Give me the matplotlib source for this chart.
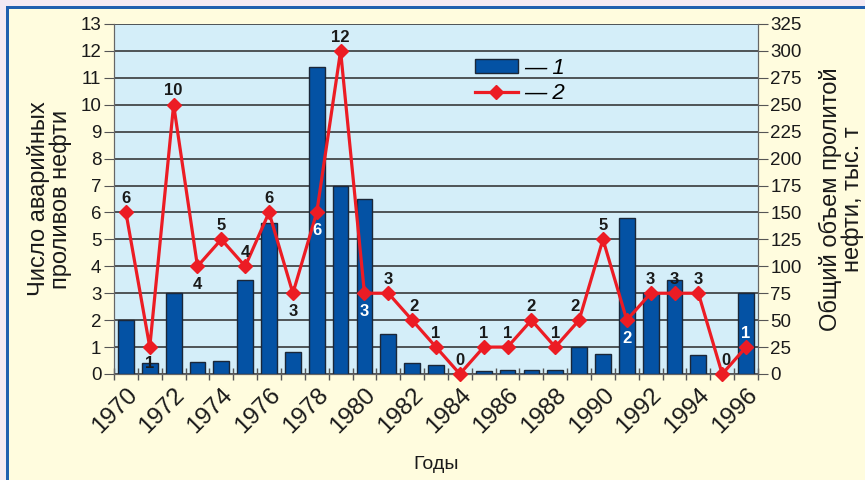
import matplotlib.pyplot as plt
from matplotlib.patches import Rectangle, Patch
from matplotlib.lines import Line2D
import numpy as np

plt.rcParams['font.family'] = ['Liberation Sans', 'DejaVu Sans']

years = list(range(1970, 1997))
# total spilled volume, thousand tonnes (bars, right axis)
volume = [50, 10.5, 75, 11.5, 12.5, 87.5, 140, 20, 285, 175, 162.5, 37,
          10.5, 8.7, 0, 2.5, 3.5, 3.5, 3.5, 25, 18.6, 145, 75, 87, 17.7, 0, 75]
# number of spills (line, left axis)
spills = [6, 1, 10, 4, 5, 4, 6, 3, 6, 12, 3, 3, 2, 1, 0, 1, 1, 2, 1, 2, 5,
          2, 3, 3, 3, 0, 1]

# label placement for point values: offset in points, text colour
lab_off = [(0, 10), (0, -12), (0, 10), (0, -13), (0, 10), (0, 10), (0, 10),
           (0, -13), (0, -13), (0, 10), (0, -13), (0, 10), (1, 10), (0, 10),
           (0, 10), (0, 10), (0, 10), (0, 10), (0, 10), (-3, 10), (0, 10), (0, -13),
           (0, 10), (0, 10), (0, 10), (3, 10), (0, 10)]
white_lab = {8, 10, 21, 26}

BLUE = '#0452A4'
RED = '#EC1C24'
YELLOW = '#FFFCDE'
SKY = '#D4EEF9'

fig = plt.figure(figsize=(8.65, 4.8), dpi=100, facecolor='#F3E9F3')
W, H = 865, 480
fig.patches.append(Rectangle((6 / W, 0), 1, (H - 6) / H, transform=fig.transFigure,
                             facecolor='#1F5FAF', edgecolor='none', zorder=-2))
fig.patches.append(Rectangle((9 / W, 0), 1, (H - 9) / H, transform=fig.transFigure,
                             facecolor=YELLOW, edgecolor='none', zorder=-1))

ax = fig.add_axes([114 / W, 1 - 374 / H, 644 / W, 350 / H])
ax2 = ax.twinx()

x = np.arange(len(years))

# bars + grid on the right axis, underneath
ax2.set_zorder(1)
ax.set_zorder(2)
ax.patch.set_visible(False)
ax2.patch.set_visible(True)
ax2.patch.set_facecolor(SKY)

ax2.bar(x, volume, width=0.66, color=BLUE, edgecolor='#1B2738', linewidth=1, zorder=3)
ax2.set_ylim(0, 325)
ax2.set_yticks(np.arange(0, 326, 25))
ax2.grid(axis='y', color='#2A2A2A', linewidth=1.1, zorder=1)
ax2.set_axisbelow(True)

ax.plot(x, spills, color=RED, linewidth=2.3, marker='D', markersize=7.5,
        markeredgecolor=RED, zorder=5, clip_on=False)
ax.set_ylim(0, 13)
ax.set_yticks(range(0, 14))
ax.set_xlim(-0.5, len(years) - 0.5)

for i, v in enumerate(spills):
    dx, dy = lab_off[i]
    ax.annotate(str(v), (x[i], v), xytext=(dx, dy), textcoords='offset points',
                ha='center', va='center', fontsize=12, fontweight='bold',
                color='white' if i in white_lab else '#1A1A1A', zorder=6)

# x ticks: marks on category borders, labels on even years
ax.set_xticks(x[::2])
ax.set_xticklabels([str(y) for y in years[::2]], rotation=45, ha='right',
                   va='top', rotation_mode='anchor', fontsize=17.5, color='#1A1A1A')
ax.tick_params(axis='x', which='major', length=0, pad=7)
ax.set_xticks(np.arange(-0.5, len(years), 1), minor=True)
ax.tick_params(axis='x', which='minor', length=8, direction='inout', color='#555555', width=1)

ax.tick_params(axis='y', length=7, direction='out', color='#555555', labelsize=13.5,
               labelcolor='#1A1A1A', pad=2)
ax2.tick_params(axis='y', length=7, direction='out', color='#555555', labelsize=13.5,
                labelcolor='#1A1A1A', pad=2)

for a in (ax, ax2):
    a.spines['top'].set_visible(False)
    a.spines['left'].set_color('#666666')
    a.spines['right'].set_color('#666666')
    a.spines['bottom'].set_color('#666666')

ax.set_ylabel('Число аварийных\nпроливов нефти', fontsize=17, color='#1A1A1A',
              linespacing=1.0, labelpad=6)
ax2.set_ylabel('Общий объем пролитой\nнефти, тыс. т', fontsize=17, color='#1A1A1A',
               linespacing=1.0, rotation=90, labelpad=12)
ax.set_xlabel('Годы', fontsize=14, color='#1A1A1A', labelpad=13)

handles = [Patch(facecolor=BLUE, edgecolor='#1B2738', linewidth=1),
           Line2D([], [], color=RED, linewidth=2.3, marker='D', markersize=7.5)]
leg = ax.legend(handles, ['— 1', '— 2'], loc='upper left', bbox_to_anchor=(0.53, 0.96),
                frameon=False, handlelength=1.9, handleheight=0.6, handletextpad=0.3,
                labelspacing=0.2, prop={'size': 16, 'style': 'italic'})

fig.savefig('out.png', dpi=100, facecolor=fig.get_facecolor())
